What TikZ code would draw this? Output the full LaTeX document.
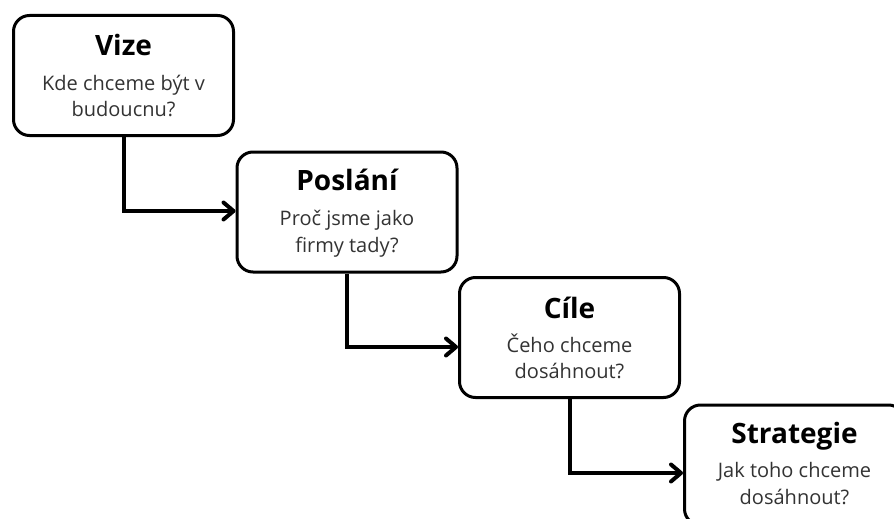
\documentclass[tikz,border=0pt]{standalone}
\usepackage{fontspec}
\setmainfont{Open Sans}
\usetikzlibrary{arrows.meta}
\definecolor{bodygray}{HTML}{333333}
\tikzset{
  stage/.style={draw=black, line width=3pt, rounded corners=16pt,
    minimum width=220pt, minimum height=120pt, inner sep=0pt, fill=white},
  stagetitle/.style={anchor=base, inner sep=0pt, text=black,
    font=\fontsize{28}{32}\selectfont\bfseries},
  stageline/.style={anchor=base, inner sep=0pt, text=bodygray,
    font=\fontsize{20}{26}\selectfont},
  link/.style={draw=black, line width=4pt, line join=miter,
    -{Straight Barb[length=10pt,width=17pt,round]}}
}
\begin{document}
\begin{tikzpicture}[x=1pt,y=-1pt]
\useasboundingbox (0,0) rectangle (894,519);
\clip (0,0) rectangle (894,519);

% the four stages, each stepping down and to the right
\node[stage] (vize)      at (123.5,75.5) {};
\node[stage] (poslani)   at (347,212)    {};
\node[stage] (cile)      at (569.5,337.5) {};
\node[stage] (strategie) at (794.5,465)  {};

% elbow connectors between consecutive stages
\draw[link] (vize.south)    |- ([yshift=1pt]poslani.west);
\draw[link] (poslani.south) |- ([yshift=-9.5pt]cile.west);
\draw[link] (cile.south)    |- ([yshift=-8pt]strategie.west);

% titles and questions
\node[stagetitle] (vize-title) at ([yshift=-42pt]vize.north) {Vize};
\node[stageline]  (vize-l1) at ([yshift=-34pt]vize-title.base) {Kde chceme být v};
\node[stageline]  (vize-l2) at ([yshift=-26.5pt]vize-l1.base) {budoucnu?};

\node[stagetitle] (poslani-title) at ([yshift=-40pt]poslani.north) {Poslání};
\node[stageline]  (poslani-l1) at ([yshift=-35pt]poslani-title.base) {Proč jsme jako};
\node[stageline]  (poslani-l2) at ([yshift=-26.5pt]poslani-l1.base) {firmy tady?};

\node[stagetitle] (cile-title) at ([yshift=-42pt]cile.north) {Cíle};
\node[stageline]  (cile-l1) at ([yshift=-34pt]cile-title.base) {Čeho chceme};
\node[stageline]  (cile-l2) at ([yshift=-26.5pt]cile-l1.base) {dosáhnout?};

\node[stagetitle] (strategie-title) at ([yshift=-40pt]strategie.north) {Strategie};
\node[stageline]  (strategie-l1) at ([yshift=-34pt]strategie-title.base) {Jak toho chceme};
\node[stageline]  (strategie-l2) at ([yshift=-27pt]strategie-l1.base) {dosáhnout?};
\end{tikzpicture}
\end{document}
